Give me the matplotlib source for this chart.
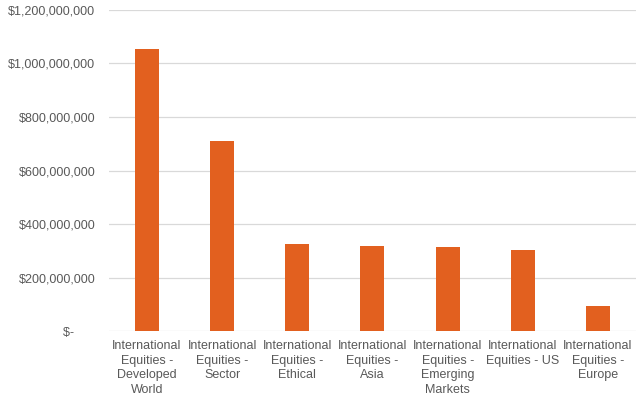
import matplotlib.pyplot as plt
from matplotlib.ticker import FuncFormatter
import numpy as np

categories = [
    "International\nEquities -\nDeveloped\nWorld",
    "International\nEquities -\nSector",
    "International\nEquities -\nEthical",
    "International\nEquities -\nAsia",
    "International\nEquities -\nEmerging\nMarkets",
    "International\nEquities - US",
    "International\nEquities -\nEurope",
]
values = [1054e6, 710e6, 324e6, 317e6, 314e6, 302e6, 93e6]
y_ticks = [0, 200e6, 400e6, 600e6, 800e6, 1000e6, 1200e6]

bar_color = "#E2601F"
text_color = "#595959"
grid_color = "#D9D9D9"


def money(v, pos):
    if v == 0:
        return "$-      "
    return "${:,.0f}".format(v)


plt.rcParams['font.family'] = ['Liberation Sans', 'DejaVu Sans']

fig = plt.figure(figsize=(6.43, 3.97), dpi=100)
ax = fig.add_axes([0.170, 0.166, 0.8185, 0.809])

x = np.arange(len(categories))
ax.bar(x, values, width=0.32, color=bar_color, zorder=3)

ax.set_xlim(-0.5, len(categories) - 0.5)
ax.set_ylim(0, 1200e6)
ax.set_yticks(y_ticks)
ax.yaxis.set_major_formatter(FuncFormatter(money))
ax.set_xticks(x)
ax.set_xticklabels(categories, fontsize=9, color=text_color, linespacing=1.28)

ax.grid(axis='y', color=grid_color, linewidth=0.9, zorder=0)
for s in ax.spines.values():
    s.set_visible(False)
ax.tick_params(axis='both', length=0, labelsize=9, colors=text_color)
ax.tick_params(axis='y', pad=10)
ax.tick_params(axis='x', pad=6.5)

fig.savefig("out.png", dpi=100)
